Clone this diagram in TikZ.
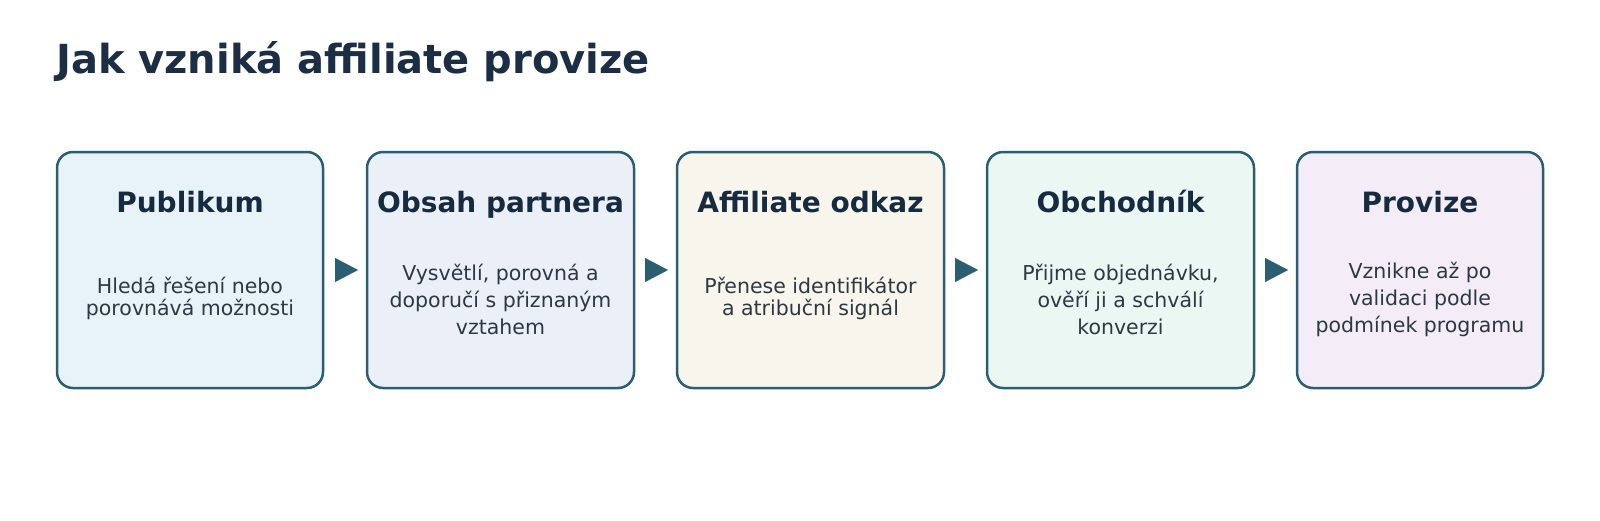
\documentclass[tikz,border=0pt]{standalone}
\usepackage{fontspec}
\setmainfont{DejaVu Sans}
\usetikzlibrary{arrows.meta}
\definecolor{titlecol}{HTML}{1B2E44}
\definecolor{headcol}{HTML}{172B40}
\definecolor{bodycol}{HTML}{2D3842}
\definecolor{edgecol}{HTML}{2A5E70}
\definecolor{fillA}{HTML}{E8F3F9}
\definecolor{fillB}{HTML}{EAEFF8}
\definecolor{fillC}{HTML}{F8F6EC}
\definecolor{fillD}{HTML}{EBF7F3}
\definecolor{fillE}{HTML}{F4EDF8}
\newcommand\linestack[1]{\vtop{\halign{\hfil##\hfil\cr#1\crcr}}}
\tikzset{
  stagebox/.style={draw=edgecol, line width=2.5pt, rounded corners=16pt,
    minimum height=236pt, inner sep=0pt, outer sep=0pt},
  headtext/.style={font=\bfseries\fontsize{28}{32}\selectfont, text=headcol, inner sep=0pt, anchor=base},
  bodytext/.style={font=\fontsize{20.5}{27}\selectfont, text=bodycol, inner sep=0pt, anchor=base},
  bodytight/.style={bodytext, font=\fontsize{20.5}{22}\selectfont},
  flowarrow/.style={edgecol, line width=0.1pt, -{Triangle[length=23pt,width=24pt]},
    shorten <=12.5pt, shorten >=9pt}
}
\begin{document}
\begin{tikzpicture}[x=1pt,y=-1pt]
\useasboundingbox[fill=white] (0,0) rectangle (1600,520);
\node[font=\bfseries\fontsize{40}{48}\selectfont, text=titlecol, anchor=base west, inner sep=0pt] (title) at (56,73) {Jak vzniká affiliate provize};

\node[stagebox, fill=fillA, minimum width=266pt] (b1) at (190,270) {};
\node[stagebox, fill=fillB, minimum width=267pt] (b2) at (500.5,270) {};
\node[stagebox, fill=fillC, minimum width=267pt] (b3) at (810.5,270) {};
\node[stagebox, fill=fillD, minimum width=267pt] (b4) at (1120.5,270) {};
\node[stagebox, fill=fillE, minimum width=246pt] (b5) at (1420,270) {};

\node[headtext] (h1) at (190,212) {Publikum};
\node[headtext] (h2) at (500.5,212) {Obsah partnera};
\node[headtext] (h3) at (810.5,212) {Affiliate odkaz};
\node[headtext] (h4) at (1120.5,212) {Obchodník};
\node[headtext] (h5) at (1420,212) {Provize};

\node[bodytight] (t1) at (190,293) {\linestack{Hledá řešení nebo\cr porovnává možnosti}};
\node[bodytext] (t2) at (500.5,280) {\linestack{Vysvětlí, porovná a\cr doporučí s přiznaným\cr vztahem}};
\node[bodytight] (t3) at (810.5,293) {\linestack{Přenese identifikátor\cr a atribuční signál}};
\node[bodytext] (t4) at (1120.5,280) {\linestack{Přijme objednávku,\cr ověří ji a schválí\cr konverzi}};
\node[bodytext] (t5) at (1420,278) {\linestack{Vznikne až po\cr validaci podle\cr podmínek programu}};

\draw[flowarrow] (b1.east) -- (b2.west);
\draw[flowarrow] (b2.east) -- (b3.west);
\draw[flowarrow] (b3.east) -- (b4.west);
\draw[flowarrow] (b4.east) -- (b5.west);
\end{tikzpicture}
\end{document}
